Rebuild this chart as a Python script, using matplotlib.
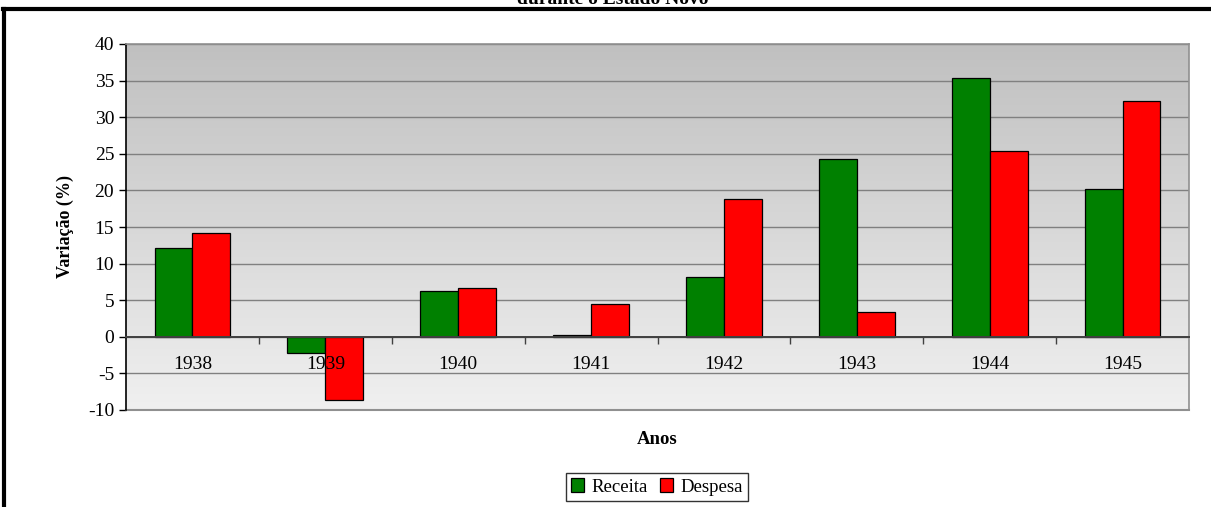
import numpy as np
import matplotlib.pyplot as plt
from matplotlib.colors import LinearSegmentedColormap
from matplotlib.lines import Line2D

plt.rcParams['font.family'] = ['Liberation Serif', 'DejaVu Serif']
plt.rcParams['axes.unicode_minus'] = False

anos = ['1938', '1939', '1940', '1941', '1942', '1943', '1944', '1945']
receita = [12.1, -2.2, 6.3, 0.2, 8.2, 24.3, 35.3, 20.2]
despesa = [14.2, -8.6, 6.7, 4.5, 18.8, 3.4, 25.4, 32.2]

VERDE = '#008000'
VERMELHO = '#ff0000'

fig = plt.figure(figsize=(12.11, 5.07), dpi=100)
ax = fig.add_axes([126 / 1211, 97 / 507, 1063 / 1211, 366 / 507])

# gradient background (dark grey at top, light at bottom)
grad = np.linspace(0, 1, 256).reshape(-1, 1)
fundo = LinearSegmentedColormap.from_list('fundo', ['#c0c0c0', '#f0f0f0'])
ax.imshow(grad, extent=[-0.5, len(anos) - 0.5, -10, 40], aspect='auto',
          cmap=fundo, origin='upper', zorder=0)

x = np.arange(len(anos))
w = 0.285
ax.bar(x - w / 2, receita, w, color=VERDE, edgecolor='black', linewidth=0.9,
       label='Receita', zorder=3)
ax.bar(x + w / 2, despesa, w, color=VERMELHO, edgecolor='black', linewidth=0.9,
       label='Despesa', zorder=3)

ax.set_xlim(-0.5, len(anos) - 0.5)
ax.set_ylim(-10, 40)
ax.set_yticks(range(-10, 41, 5))
ax.yaxis.grid(True, color='#808080', linewidth=1)
for gl in ax.yaxis.get_gridlines():
    gl.set_zorder(1)

# x axis sits on the zero line, ticks between categories
ax.spines['bottom'].set_position(('data', 0))
ax.spines['bottom'].set_color('#404040')
ax.spines['bottom'].set_linewidth(1.4)
ax.spines['bottom'].set_zorder(4)
ax.spines['left'].set_color('black')
ax.spines['left'].set_linewidth(1.2)
for s in ['top', 'right']:
    ax.spines[s].set_color('#909090')
    ax.spines[s].set_linewidth(1.2)
ax.axhline(-10, color='#909090', linewidth=1.5, clip_on=False, zorder=2)

ax.set_xticks(x)
ax.set_xticklabels(anos, fontsize=14)
ax.tick_params(axis='x', which='major', length=0, pad=14)
ax.set_xticks(np.arange(0.5, len(anos) - 0.5, 1), minor=True)
ax.tick_params(axis='x', which='minor', length=5, direction='out',
               color='#404040', width=1)
ax.tick_params(axis='y', length=5, direction='out', labelsize=14, width=1)
ax.xaxis.set_zorder(5)

ax.set_ylabel('Variação (%)', fontsize=13, fontweight='bold', labelpad=10)
fig.text(657 / 1211, 1 - 440 / 507, 'Anos', fontsize=13.5, fontweight='bold',
         ha='center', va='center')

leg = fig.legend(loc='center', bbox_to_anchor=(657 / 1211, 1 - 487 / 507),
                 ncol=2, fontsize=13.5, frameon=True, fancybox=False,
                 edgecolor='black', handlelength=0.7, handleheight=0.7,
                 handletextpad=0.4, columnspacing=0.6, borderpad=0.3)
leg.get_frame().set_linewidth(1)

# outer border and title of the chart area
fig.add_artist(Line2D([4 / 1211, 4 / 1211], [0, 1 - 9 / 507], color='black',
                      linewidth=3, transform=fig.transFigure))
fig.add_artist(Line2D([3 / 1211, 1], [1 - 9 / 507, 1 - 9 / 507], color='black',
                      linewidth=3, transform=fig.transFigure))
fig.text(613 / 1211, 1 - 3.5 / 507, 'durante o Estado Novo', fontsize=14,
         fontweight='bold', ha='center', va='baseline')

fig.savefig('out.png', dpi=100)
